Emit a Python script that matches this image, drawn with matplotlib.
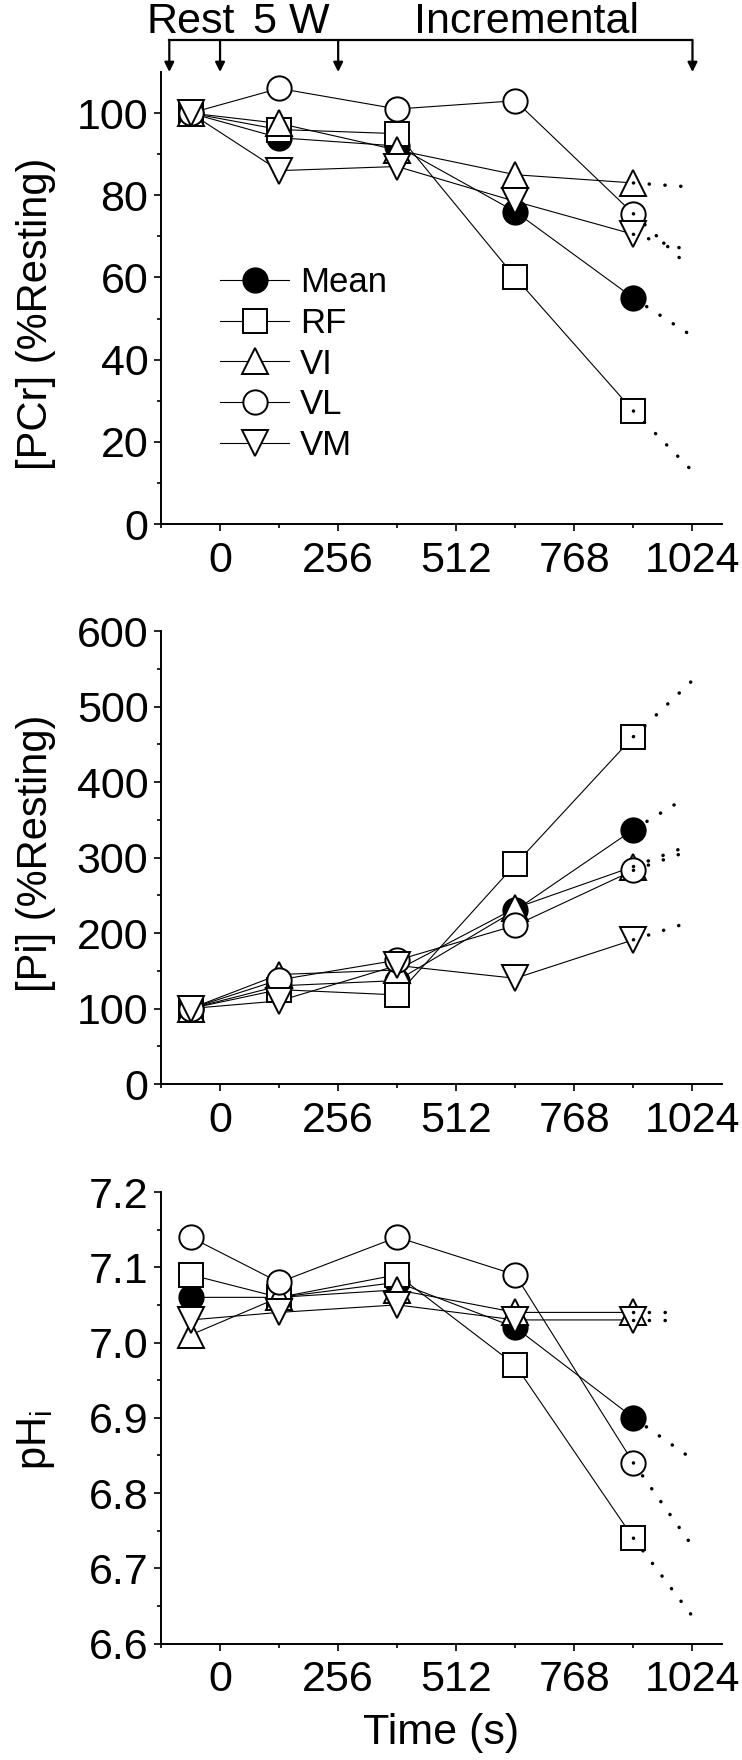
import matplotlib
matplotlib.use("Agg")
import matplotlib.pyplot as plt
from matplotlib.lines import Line2D
from matplotlib.transforms import blended_transform_factory
from matplotlib import font_manager

names = {f.name for f in font_manager.fontManager.ttflist}
fams = [f for f in ['Liberation Sans Narrow', 'Liberation Sans', 'DejaVu Sans'] if f in names]
plt.rcParams['font.family'] = fams
plt.rcParams['mathtext.fontset'] = 'custom'
plt.rcParams['mathtext.rm'] = fams[0]
plt.rcParams['mathtext.it'] = fams[0]

# ---------------- data ----------------
time_s = [-64, 128, 384, 640, 896]
series = ['Mean', 'RF', 'VI', 'VL', 'VM']

pcr_mean = [100, 94, 92, 76, 55]
pcr_rf = [100, 96, 95, 60, 27.5]
pcr_vi = [100, 97.5, 91, 85, 83]
pcr_vl = [100, 106, 101, 103, 75.5]
pcr_vm = [100, 86, 87, 78.5, 70.5]
pcr_ext_t = [1024, 1020, 1022, 1003, 1003]
pcr_ext_v = [45.7, 13.3, 82, 64, 67]

pi_mean = [100, 130, 137, 230, 337]
pi_rf = [100, 125, 118, 291, 460]
pi_vi = [100, 145, 151, 233, 288]
pi_vl = [100, 138, 164, 210, 283]
pi_vm = [100, 110, 157, 140, 191]
pi_ext_t = [1004, 1023, 1013, 1004, 995]
pi_ext_v = [377, 534, 315, 306, 210]

ph_mean = [7.06, 7.06, 7.08, 7.02, 6.90]
ph_rf = [7.09, 7.06, 7.09, 6.97, 6.74]
ph_vi = [7.01, 7.06, 7.07, 7.04, 7.04]
ph_vl = [7.14, 7.08, 7.14, 7.09, 6.84]
ph_vm = [7.03, 7.04, 7.05, 7.03, 7.03]
ph_ext_t = [1024, 1024, 990, 1015, 990]
ph_ext_v = [6.845, 6.636, 7.04, 6.737, 7.03]

x_ticks = [0, 256, 512, 768, 1024]
x_minor = [-128, 128, 384, 640, 896]
phase_labels = ['Rest', '5 W', 'Incremental']
phase_label_x = [-63, 154, 665]
phase_arrow_x = [-110, 0, 256, 1024]

panels = [
    dict(vals=[pcr_mean, pcr_rf, pcr_vi, pcr_vl, pcr_vm], ext_t=pcr_ext_t, ext_v=pcr_ext_v,
         ylim=(0, 110), yticks=[0, 20, 40, 60, 80, 100], yminor=[10, 30, 50, 70, 90],
         ylabel='[PCr] (%Resting)', fmt='{:.0f}', lab_y=0.465),
    dict(vals=[pi_mean, pi_rf, pi_vi, pi_vl, pi_vm], ext_t=pi_ext_t, ext_v=pi_ext_v,
         ylim=(0, 600), yticks=[0, 100, 200, 300, 400, 500, 600], yminor=[50, 150, 250, 350, 450, 550],
         ylabel='[Pi] (%Resting)', fmt='{:.0f}', lab_y=0.51),
    dict(vals=[ph_mean, ph_rf, ph_vi, ph_vl, ph_vm], ext_t=ph_ext_t, ext_v=ph_ext_v,
         ylim=(6.6, 7.2), yticks=[6.6, 6.7, 6.8, 6.9, 7.0, 7.1, 7.2], yminor=[6.65, 6.75, 6.85, 6.95, 7.05, 7.15],
         ylabel=r'pH$_{\mathrm{i}}$', fmt='{:.1f}', lab_y=0.45),
]

markers = ['o', 's', '^', 'o', 'v']
faces = ['black', 'white', 'white', 'white', 'white']
msizes = [17.5, 17, 18.5, 17.5, 18.5]

W, H = 742, 1760
fig = plt.figure(figsize=(W / 100, H / 100), dpi=100)

boxes = [(161, 72, 722, 524), (161, 631, 722, 1084), (161, 1192, 722, 1643.5)]
axes = []
for (l, t, r, b) in boxes:
    ax = fig.add_axes([l / W, 1 - b / H, (r - l) / W, (b - t) / H])
    axes.append(ax)

TICK_FS = 31
for ax, p in zip(axes, panels):
    for i in range(5):
        ax.plot(time_s, p['vals'][i], '-', color='black', lw=0.8, zorder=2)
    for i in range(5):
        ax.plot(time_s, p['vals'][i], linestyle='none', marker=markers[i], ms=msizes[i],
                mfc=faces[i], mec='black', mew=1.4, zorder=3 + i)
    for i in range(5):
        ax.plot([time_s[-1], p['ext_t'][i]], [p['vals'][i][-1], p['ext_v'][i]],
                linestyle=(0, (0.05, 4.5)), color='black', lw=2.5,
                dash_capstyle='round', zorder=10)
    ax.set_xlim(-128, 1088)
    ax.set_ylim(*p['ylim'])
    ax.set_xticks(x_ticks)
    ax.set_xticks(x_minor, minor=True)
    ax.set_xticklabels([str(v) for v in x_ticks])
    ax.set_yticks(p['yticks'])
    ax.set_yticks(p['yminor'], minor=True)
    ax.set_yticklabels([p['fmt'].format(v) for v in p['yticks']])
    for s in ['top', 'right']:
        ax.spines[s].set_visible(False)
    for s in ['left', 'bottom']:
        ax.spines[s].set_linewidth(1.4)
    ax.tick_params(which='major', direction='out', length=5, width=1.2, labelsize=TICK_FS)
    ax.tick_params(which='minor', direction='out', length=3, width=1.2)
    ax.tick_params(axis='x', which='major', pad=7)
    ax.tick_params(axis='y', which='major', pad=4)
    ax.set_ylabel(p['ylabel'], fontsize=30)
    ax.yaxis.label.set_va('center')
    ax.yaxis.set_label_coords(-0.222, p['lab_y'])

axes[2].set_xlabel('Time (s)', fontsize=31)
axes[2].xaxis.label.set_va('center')
axes[2].xaxis.set_label_coords(0.5, -0.198)

handles = [Line2D([0], [0], color='black', lw=0.8, marker=markers[i], ms=msizes[i],
                  mfc=faces[i], mec='black', mew=1.4) for i in range(5)]
axes[0].legend(handles, series, loc='upper left', bbox_to_anchor=(0.105, 0.57),
               frameon=False, fontsize=25, handlelength=2.0, handletextpad=0.3,
               labelspacing=0.22, borderpad=0, borderaxespad=0)

ax = axes[0]
tr = blended_transform_factory(ax.transData, fig.transFigure)
y_bracket = 1 - 40 / H
y_arrow_end = 1 - 72 / H
ax.add_line(Line2D([phase_arrow_x[0], phase_arrow_x[-1]], [y_bracket, y_bracket],
                   transform=tr, color='black', lw=1.6, clip_on=False, solid_capstyle='projecting'))
for xa in phase_arrow_x:
    ax.annotate('', xy=(xa, y_arrow_end), xytext=(xa, y_bracket),
                xycoords=tr, textcoords=tr,
                arrowprops=dict(arrowstyle='-|>', color='black', lw=1.6,
                                mutation_scale=14, shrinkA=0, shrinkB=0))
for lab, xl in zip(phase_labels, phase_label_x):
    ax.text(xl, 1 - 33 / H, lab, transform=tr, ha='center', va='baseline', fontsize=31)

fig.savefig('out.png', dpi=100)
